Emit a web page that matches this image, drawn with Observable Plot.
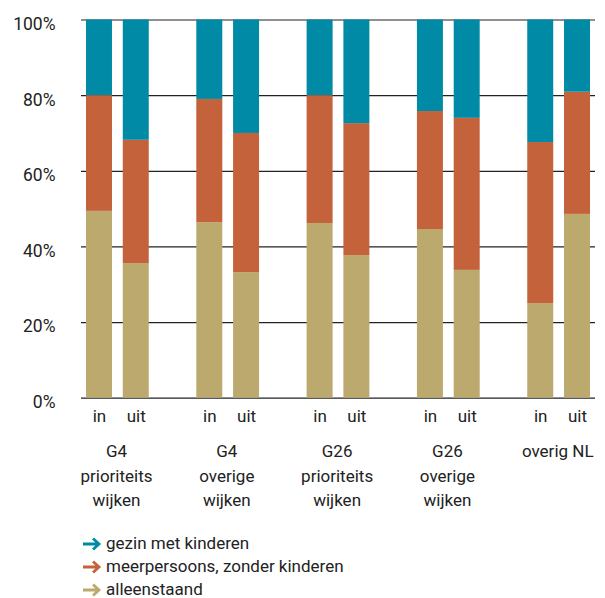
<!DOCTYPE html>
<html>
<head>
<meta charset="utf-8">
<script src="https://cdn.jsdelivr.net/npm/d3@7"></script>
<script src="https://cdn.jsdelivr.net/npm/@observablehq/plot@0.6"></script>
<style>
  html, body { margin: 0; overflow: hidden; background: #fff; font-family: Roboto, "Noto Sans", sans-serif; color: #222; }
  #chart svg { display: block; }
  .legend { margin-top: 7px; padding-left: 82px; font-size: 17px; line-height: 23px; }
  .legend div { display: flex; align-items: center; }
  .legend svg { margin-right: 4px; }
</style>
</head>
<body>
<div id="chart"></div>
<div class="legend" id="legend"></div>
<script>
// Household type of people moving in / out, per type of neighbourhood (shares, %)
const groups = ["G4\nprioriteits\nwijken", "G4\noverige\nwijken", "G26\nprioriteits\nwijken", "G26\noverige\nwijken", "overig NL"];
const sides = ["in", "uit"];
const types = ["alleenstaand", "meerpersoons, zonder kinderen", "gezin met kinderen"];
const colors = ["#bca96d", "#c4623b", "#008aa5"];

// one value per bar, in the order G4p in, G4p uit, G4o in, ... overig NL uit
const alleenstaand = [49.4, 35.6, 46.4, 33.2, 46.2, 37.7, 44.6, 33.8, 25.0, 48.6];
const meerpersoons = [30.6, 32.6, 32.6, 36.8, 33.8, 34.9, 31.2, 40.2, 42.6, 32.3];
const gezin        = [20.0, 31.8, 21.0, 30.0, 20.0, 27.4, 24.2, 26.0, 32.4, 19.1];
const yTicks = [0, 20, 40, 60, 80, 100];

// x domain: in/uit per group, with an empty slot between groups
const domain = [];
const rows = [];
const series = [alleenstaand, meerpersoons, gezin];
groups.forEach((g, gi) => {
  sides.forEach((s, si) => {
    const key = `${gi}|${s}`;
    domain.push(key);
    const bi = gi * 2 + si;
    types.forEach((t, ti) => rows.push({key, type: t, value: series[ti][bi]}));
  });
  if (gi < groups.length - 1) domain.push(`gap${gi}`);
});
const barKeys = domain.filter(k => !k.startsWith("gap"));
const groupLabels = groups.map((g, gi) => ({key: `${gi}|in`, label: g}));

const chart = Plot.plot({
  width: 605,
  height: 525,
  marginLeft: 81,
  marginRight: 10,
  marginTop: 19.5,
  marginBottom: 127.3,
  style: {fontFamily: "Roboto, 'Noto Sans', sans-serif", fontSize: "17px", color: "#222"},
  x: {type: "band", domain, paddingInner: 0.2935, paddingOuter: 0.136, round: false, axis: null},
  y: {domain: [0, 100], axis: null},
  color: {domain: types, range: colors},
  marks: [
    Plot.ruleY(yTicks, {stroke: "#222", strokeWidth: 1.2}),
    Plot.barY(rows, {x: "key", y: "value", fill: "type"}),
    Plot.axisY({ticks: yTicks, tickFormat: d => `${d}%`, tickSize: 0, tickPadding: 26, dy: 4.3, fontSize: 17.5, fill: "#222", label: null}),
    Plot.axisX({ticks: barKeys, tickFormat: k => k.split("|")[1], tickSize: 0, tickPadding: 12, fontSize: 17, fill: "#222", label: null}),
    Plot.text(groupLabels, {x: "key", text: "label", frameAnchor: "bottom", lineAnchor: "top", dy: 42, dx: 17, lineHeight: 1.43, fontSize: 17, fill: "#222"})
  ]
});
document.getElementById("chart").append(chart);

// legend: top of the stack first
const legend = document.getElementById("legend");
[2, 1, 0].forEach(i => {
  const row = document.createElement("div");
  row.innerHTML = `<svg width="20" height="14" viewBox="0 0 20 14"><path d="M1 7H17M11 1.5L17 7L11 12.5" fill="none" stroke="${colors[i]}" stroke-width="2.8" stroke-linejoin="miter"/></svg><span>${types[i]}</span>`;
  legend.append(row);
});
</script>
</body>
</html>
